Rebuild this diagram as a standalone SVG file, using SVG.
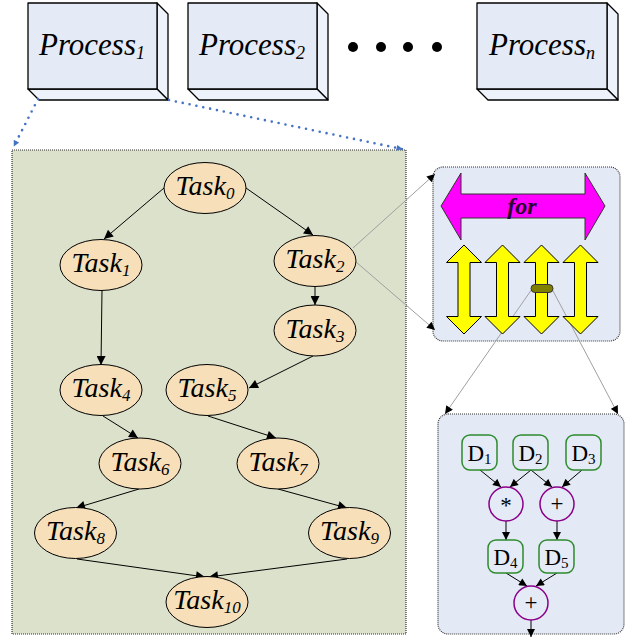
<svg xmlns="http://www.w3.org/2000/svg" width="628" height="637" viewBox="0 0 628 637">
<defs>
<style>
.pf{fill:#E4EAF6;stroke:#000;stroke-width:1.3;stroke-linejoin:round}
.ps{fill:#EEF2FA;stroke:#000;stroke-width:1.3;stroke-linejoin:round}
.pt{font-family:'Liberation Serif',serif;font-style:italic;font-size:31px;fill:#000;text-anchor:middle}
.task{fill:#F6DFB9;stroke:#000;stroke-width:1}
.tt{font-family:'Liberation Serif',serif;font-style:italic;font-size:28px;fill:#000;text-anchor:middle}
.e{stroke:#000;stroke-width:1;fill:none;marker-end:url(#ah)}
.de{stroke:#000;stroke-width:1;fill:none;marker-end:url(#ah2)}
.blue{stroke:#4472C4;stroke-width:2.6;stroke-dasharray:0 7;stroke-linecap:round;fill:none}
.grey{stroke:#A0A0A0;stroke-width:1;fill:none}
.box{stroke:#333;stroke-width:1.2;stroke-dasharray:1 1}
.yel{fill:#FFFF00;stroke:#000;stroke-width:1}
.dn{fill:#E4EAF6;stroke:#2E8B2E;stroke-width:1.5}
.op{fill:#E4EAF6;stroke:#8B008B;stroke-width:1.5}
.dt{font-family:'Liberation Serif',serif;font-size:23px;fill:#000;text-anchor:middle}
</style>
<marker id="ah" viewBox="0 0 10 10" refX="10" refY="5" markerWidth="11" markerHeight="9" orient="auto" markerUnits="userSpaceOnUse"><path d="M0,0 L10,5 L0,10 z" fill="#000"/></marker>
<marker id="ah2" viewBox="0 0 10 10" refX="10" refY="5" markerWidth="9" markerHeight="8" orient="auto" markerUnits="userSpaceOnUse"><path d="M0,0 L10,5 L0,10 z" fill="#000"/></marker>
<marker id="bh" viewBox="0 0 10 10" refX="9" refY="5" markerWidth="7" markerHeight="6" orient="auto" markerUnits="userSpaceOnUse"><path d="M0,0 L10,5 L0,10 z" fill="#4472C4"/></marker>
<marker id="gh" viewBox="0 0 10 10" refX="10" refY="5" markerWidth="9" markerHeight="8" orient="auto" markerUnits="userSpaceOnUse"><path d="M0,0 L10,5 L0,10 z" fill="#000"/></marker>
</defs>

<rect id="taskPanel" x="12" y="150" width="394" height="484" fill="#DCE1CB" class="box"/>
<rect id="forPanel" x="433" y="167" width="187" height="174" rx="10" fill="#E4EAF5" class="box"/>
<rect id="dataPanel" x="438" y="414" width="186" height="220" rx="10" fill="#E4EAF5" class="box"/>

<g id="process1">
<polygon class="ps" points="157,3 168,14 168,100 157,89"/>
<polygon class="ps" points="28,89 157,89 168,100 39,100"/>
<rect class="pf" x="28" y="3" width="129" height="86"/>
<text class="pt" x="92" y="55">Process<tspan font-size="18" dy="4">1</tspan></text>
</g>
<g id="process2">
<polygon class="ps" points="317,3 328,14 328,100 317,89"/>
<polygon class="ps" points="188,89 317,89 328,100 199,100"/>
<rect class="pf" x="188" y="3" width="129" height="86"/>
<text class="pt" x="252" y="55">Process<tspan font-size="18" dy="4">2</tspan></text>
</g>
<g id="dots">
<circle cx="353" cy="47" r="5" fill="#000"/>
<circle cx="381" cy="47" r="5" fill="#000"/>
<circle cx="408" cy="47" r="5" fill="#000"/>
<circle cx="437" cy="47" r="5" fill="#000"/>
</g>
<g id="processN">
<polygon class="ps" points="607,3 618,14 618,100 607,89"/>
<polygon class="ps" points="477,89 607,89 618,100 488,100"/>
<rect class="pf" x="477" y="3" width="130" height="86"/>
<text class="pt" x="542" y="55">Process<tspan font-size="18" dy="4">n</tspan></text>
</g>

<g id="connectors">
<line class="blue" x1="38" y1="99" x2="14" y2="146" marker-end="url(#bh)"/>
<line class="blue" x1="169" y1="100" x2="402" y2="149" marker-end="url(#bh)"/>
<line class="e" x1="164" y1="188" x2="104" y2="239"/>
<line class="e" x1="246" y1="188" x2="313" y2="235"/>
<line class="e" x1="315" y1="286" x2="315" y2="305"/>
<line class="e" x1="102" y1="290" x2="101" y2="365"/>
<line class="e" x1="313" y1="356" x2="249" y2="388"/>
<line class="e" x1="103" y1="416" x2="138" y2="438"/>
<line class="e" x1="208" y1="416" x2="276" y2="438"/>
<line class="e" x1="139" y1="489" x2="76" y2="508"/>
<line class="e" x1="278" y1="489" x2="347" y2="508"/>
<line class="e" x1="77" y1="559" x2="205" y2="577"/>
<line class="e" x1="347" y1="559" x2="209" y2="577"/>
<line class="grey" x1="353" y1="248" x2="435" y2="174" marker-end="url(#gh)"/>
<line class="grey" x1="356" y1="262" x2="435" y2="330" marker-end="url(#gh)"/>
<line class="grey" x1="532" y1="289" x2="445" y2="414" marker-end="url(#gh)"/>
<line class="grey" x1="552" y1="289" x2="618" y2="414" marker-end="url(#gh)"/>
<line class="de" x1="480" y1="470" x2="501" y2="487"/>
<line class="de" x1="531" y1="470" x2="510" y2="487"/>
<line class="de" x1="531" y1="470" x2="552" y2="487"/>
<line class="de" x1="582" y1="470" x2="562" y2="487"/>
<line class="de" x1="506" y1="521" x2="506" y2="540"/>
<line class="de" x1="557" y1="521" x2="557" y2="540"/>
<line class="de" x1="506" y1="573" x2="527" y2="586"/>
<line class="de" x1="557" y1="573" x2="536" y2="586"/>
<line class="de" x1="531" y1="620" x2="531" y2="637"/>
</g>

<g id="task0"><ellipse class="task" cx="205" cy="188" rx="41" ry="25.5"/><text class="tt" x="205" y="195">Task<tspan font-size="17" dy="4">0</tspan></text></g>
<g id="task1"><ellipse class="task" cx="101" cy="265" rx="41" ry="25.5"/><text class="tt" x="101" y="272">Task<tspan font-size="17" dy="4">1</tspan></text></g>
<g id="task2"><ellipse class="task" cx="315" cy="261" rx="41" ry="25.5"/><text class="tt" x="315" y="268">Task<tspan font-size="17" dy="4">2</tspan></text></g>
<g id="task3"><ellipse class="task" cx="315" cy="330.5" rx="41" ry="25.5"/><text class="tt" x="315" y="337.5">Task<tspan font-size="17" dy="4">3</tspan></text></g>
<g id="task4"><ellipse class="task" cx="101" cy="390" rx="41" ry="25.5"/><text class="tt" x="101" y="397">Task<tspan font-size="17" dy="4">4</tspan></text></g>
<g id="task5"><ellipse class="task" cx="207" cy="390" rx="41" ry="25.5"/><text class="tt" x="207" y="397">Task<tspan font-size="17" dy="4">5</tspan></text></g>
<g id="task6"><ellipse class="task" cx="140" cy="463.5" rx="41" ry="25.5"/><text class="tt" x="140" y="470.5">Task<tspan font-size="17" dy="4">6</tspan></text></g>
<g id="task7"><ellipse class="task" cx="278" cy="463.5" rx="41" ry="25.5"/><text class="tt" x="278" y="470.5">Task<tspan font-size="17" dy="4">7</tspan></text></g>
<g id="task8"><ellipse class="task" cx="75.5" cy="533" rx="41" ry="25.5"/><text class="tt" x="75.5" y="540">Task<tspan font-size="17" dy="4">8</tspan></text></g>
<g id="task9"><ellipse class="task" cx="349.5" cy="533" rx="41" ry="25.5"/><text class="tt" x="349.5" y="540">Task<tspan font-size="17" dy="4">9</tspan></text></g>
<g id="task10"><ellipse class="task" cx="207" cy="602" rx="41" ry="25.5"/><text class="tt" x="207" y="609">Task<tspan font-size="17" dy="4">10</tspan></text></g>

<g id="forArrow">
<polygon points="441,206 461,173 461,194 585,194 585,173 605,206 585,240 585,218 461,218 461,240" fill="#FF00FF" stroke="#333" stroke-width="1"/>
<text x="522" y="214" font-family="Liberation Serif, serif" font-style="italic" font-weight="bold" font-size="24" fill="#2a0030" text-anchor="middle">for</text>
</g>
<g id="iterations">
<polygon class="yel" points="464,245 481.5,262.5 470,262.5 470,316.5 481.5,316.5 464,334 446.5,316.5 458,316.5 458,262.5 446.5,262.5"/>
<polygon class="yel" points="502.5,245 520,262.5 508.5,262.5 508.5,316.5 520,316.5 502.5,334 485,316.5 496.5,316.5 496.5,262.5 485,262.5"/>
<polygon class="yel" points="541.5,245 559,262.5 547.5,262.5 547.5,316.5 559,316.5 541.5,334 524,316.5 535.5,316.5 535.5,262.5 524,262.5"/>
<polygon class="yel" points="580.5,245 598,262.5 586.5,262.5 586.5,316.5 598,316.5 580.5,334 563,316.5 574.5,316.5 574.5,262.5 563,262.5"/>
<rect x="531" y="284.5" width="22" height="8" rx="4" fill="#808000" stroke="#333" stroke-width="1"/>
</g>

<g id="d1"><rect class="dn" x="462" y="435" width="35" height="35" rx="8"/><text class="dt" x="479.5" y="461">D<tspan font-size="15" dy="3">1</tspan></text></g>
<g id="d2"><rect class="dn" x="513" y="435" width="35" height="35" rx="8"/><text class="dt" x="530.5" y="461">D<tspan font-size="15" dy="3">2</tspan></text></g>
<g id="d3"><rect class="dn" x="566" y="435" width="35" height="35" rx="8"/><text class="dt" x="583.5" y="461">D<tspan font-size="15" dy="3">3</tspan></text></g>
<g id="mul"><circle class="op" cx="506" cy="504" r="17"/><text class="dt" x="506" y="513" font-size="22">*</text></g>
<g id="add1"><circle class="op" cx="557" cy="504" r="17"/><text class="dt" x="557" y="511" font-size="22">+</text></g>
<g id="d4"><rect class="dn" x="488" y="540" width="35" height="33" rx="8"/><text class="dt" x="505.5" y="565">D<tspan font-size="15" dy="3">4</tspan></text></g>
<g id="d5"><rect class="dn" x="539" y="540" width="35" height="33" rx="8"/><text class="dt" x="556.5" y="565">D<tspan font-size="15" dy="3">5</tspan></text></g>
<g id="add2"><circle class="op" cx="531" cy="603" r="17"/><text class="dt" x="531" y="610" font-size="22">+</text></g>
</svg>
